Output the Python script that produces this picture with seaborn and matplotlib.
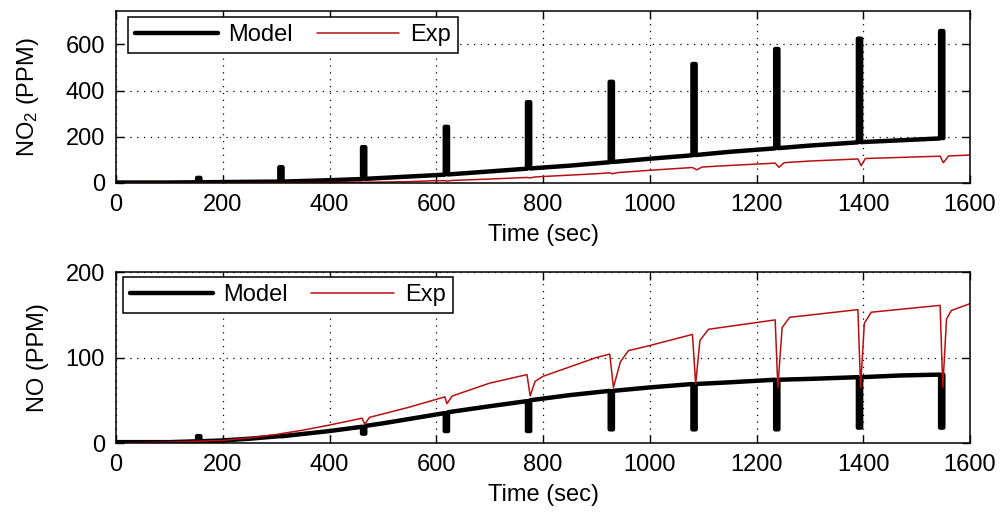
import matplotlib
matplotlib.use("Agg")
import matplotlib.pyplot as plt
import seaborn as sns
import pandas as pd

# ---------------- data ----------------
# Model: one time base for both species (spikes in NO2, dips in NO)
t_model = [0, 100, 152, 152, 158, 158, 200, 250, 306, 306, 312, 312,
           400, 461, 461, 467, 467, 500, 616, 616, 622, 622,
           700, 770, 770, 776, 776, 850, 925, 925, 931, 931,
           1000, 1080, 1080, 1086, 1086, 1150, 1235, 1235, 1241, 1241,
           1300, 1390, 1390, 1396, 1396, 1470, 1544, 1544, 1550, 1550]
no2_model = [2, 2, 3, 22, 22, 3, 4, 5, 6, 68, 68, 6,
             12, 17, 155, 155, 18, 22, 36, 243, 243, 37,
             50, 62, 350, 350, 63, 75, 90, 438, 438, 91,
             105, 120, 515, 515, 121, 135, 150, 580, 580, 151,
             162, 176, 625, 625, 177, 185, 193, 658, 658, 194]
no_model = [1, 1, 2, 8, 8, 2, 3, 5, 8, 8, 8, 8,
            14, 19, 11, 11, 20, 23, 35, 14, 14, 36,
            43, 49, 14, 14, 50, 56, 61, 16, 16, 61,
            65, 69, 16, 16, 69, 71, 74, 16, 16, 74,
            75, 77, 18, 18, 77, 79, 80, 18, 18, 80]

# Experiment, NO2
t_exp_no2 = [0, 200, 300, 400, 500, 550, 600, 616, 620, 630, 700, 770, 775, 785,
             800, 900, 925, 930, 940, 1000, 1080, 1088, 1098, 1150, 1235, 1242,
             1252, 1300, 1390, 1396, 1404, 1500, 1544, 1550, 1560, 1600]
no2_exp = [0, 0, 1, 2, 4, 6, 10, 10, 8, 11, 17, 24, 22, 26,
           28, 40, 44, 40, 45, 55, 67, 57, 69, 76, 86, 68,
           88, 95, 104, 75, 106, 113, 116, 88, 117, 121]

# Experiment, NO
t_exp_no = [0, 100, 150, 200, 250, 300, 350, 400, 461, 466, 475, 550, 616, 620, 630,
            700, 770, 776, 785, 800, 900, 925, 932, 945, 960, 1000, 1080, 1086,
            1094, 1110, 1235, 1240, 1248, 1262, 1390, 1395, 1402, 1415, 1544,
            1549, 1556, 1565, 1600]
no_exp = [0, 1, 2, 3, 6, 10, 15, 21, 29, 22, 30, 42, 54, 46, 55,
          70, 80, 55, 72, 78, 100, 104, 65, 95, 108, 114, 127, 69,
          120, 133, 144, 65, 135, 147, 156, 65, 140, 153, 161,
          65, 145, 155, 163]

x_ticks = [0, 200, 400, 600, 800, 1000, 1200, 1400, 1600]
no2_ticks = [0, 200, 400, 600]
no_ticks = [0, 100, 200]

# ---------------- style ----------------
sns.set_style("ticks")
plt.rcParams["font.family"] = ["Liberation Sans", "DejaVu Sans"]
plt.rcParams["mathtext.default"] = "regular"
plt.rcParams["text.color"] = "black"
plt.rcParams["axes.labelcolor"] = "black"
plt.rcParams["xtick.color"] = "black"
plt.rcParams["ytick.color"] = "black"
FS = 17

fig = plt.figure(figsize=(10, 5.15), dpi=100)
ax1 = fig.add_axes([0.116, 0.6447, 0.854, 0.334])
ax2 = fig.add_axes([0.116, 0.1398, 0.854, 0.332])

RED = "#b81010"


def draw(ax, tm, ym, te, ye):
    sns.lineplot(x=tm, y=ym, sort=False, estimator=None, color="black",
                 lw=3.2, ax=ax, label="Model")
    sns.lineplot(x=te, y=ye, sort=False, estimator=None, color=RED,
                 lw=1.1, ax=ax, label="Exp")


draw(ax1, t_model, no2_model, t_exp_no2, no2_exp)
draw(ax2, t_model, no_model, t_exp_no, no_exp)

for ax, yt, ylim in ((ax1, no2_ticks, (0, 745)), (ax2, no_ticks, (0, 200))):
    ax.set_xlim(0, 1600)
    ax.set_ylim(*ylim)
    ax.set_xticks(x_ticks)
    ax.set_yticks(yt)
    ax.grid(True, color="black", linestyle=(0, (1, 4.5)), lw=0.9)
    ax.tick_params(direction="in", length=6, width=1, top=True, right=True,
                   labelsize=FS, pad=8, colors="black")
    for s in ax.spines.values():
        s.set_visible(True)
        s.set_linewidth(1.1)
        s.set_color("black")
    ax.set_xlabel("Time (sec)", fontsize=FS, labelpad=6, color="black")
    leg = ax.legend(loc="upper left", ncol=2, fontsize=FS, handlelength=3.5,
                    columnspacing=1.0, handletextpad=0.45, fancybox=False,
                    edgecolor="black", framealpha=1, borderpad=0.3,
                    borderaxespad=0, labelcolor="black")
    leg.get_frame().set_linewidth(1.1)

ax1.legend_.set_bbox_to_anchor((0.014, 0.965))
ax2.legend_.set_bbox_to_anchor((0.008, 0.971))

ax1.set_ylabel("NO$_2$ (PPM)", fontsize=FS, color="black")
ax2.set_ylabel("NO (PPM)", fontsize=FS, color="black")
ax1.yaxis.set_label_coords(-0.088, 0.5)
ax2.yaxis.set_label_coords(-0.078, 0.5)

fig.savefig("out.png", dpi=100, facecolor="white")
